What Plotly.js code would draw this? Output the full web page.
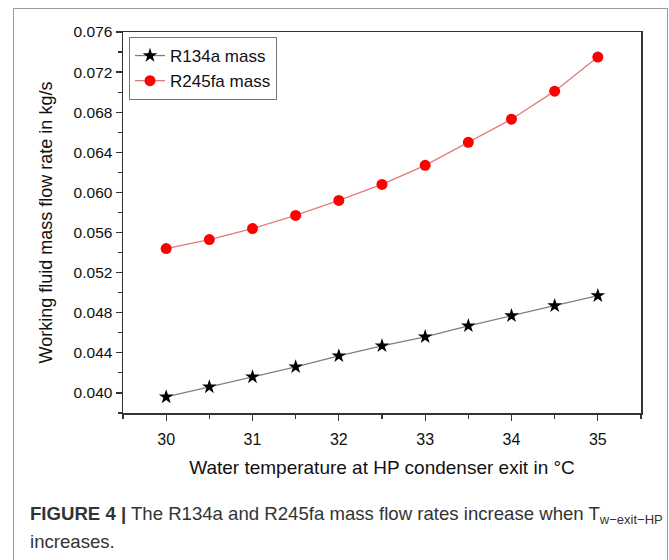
<!DOCTYPE html>
<html>
<head>
<meta charset="utf-8">
<script src="https://cdn.plot.ly/plotly-3.0.1.min.js"></script>
<style>
  html, body { margin: 0; padding: 0; background: #fff; }
  #wrap { position: relative; width: 669px; height: 560px; overflow: hidden; }
  #chart { width: 669px; height: 560px; }
  #frame { position: absolute; left: 13px; top: 8px; width: 653px; height: 600px;
           border: 1.5px solid #9a9a9a; pointer-events: none; }
</style>
</head>
<body>
<div id="wrap">
  <div id="chart"></div>
  <div id="frame"></div>
</div>
<script>
// Water temperature at HP condenser exit (°C)
const temps = [30, 30.5, 31, 31.5, 32, 32.5, 33, 33.5, 34, 34.5, 35];
// Working fluid mass flow rates (kg/s)
const r134aMass  = [0.0396, 0.0406, 0.0416, 0.0426, 0.0437, 0.0447, 0.0456, 0.0467, 0.0477, 0.0487, 0.0497];
const r245faMass = [0.0544, 0.0553, 0.0564, 0.0577, 0.0592, 0.0608, 0.0627, 0.0650, 0.0673, 0.0701, 0.0735];
const yTicks = [0.040, 0.044, 0.048, 0.052, 0.056, 0.060, 0.064, 0.068, 0.072, 0.076];
const xTicks = [30, 31, 32, 33, 34, 35];

const font = 'Liberation Sans, Arial, sans-serif';

const traces = [
  {
    x: temps, y: r134aMass, name: 'R134a mass', type: 'scatter', mode: 'lines+markers',
    line: { color: '#7f7f7f', width: 1.3 },
    marker: { symbol: 'star', size: 11, color: '#000' }
  },
  {
    x: temps, y: r245faMass, name: 'R245fa mass', type: 'scatter', mode: 'lines+markers',
    line: { color: '#e07b7b', width: 1.3 },
    marker: { symbol: 'circle', size: 11, color: '#ff0000' }
  }
];

// plot area geometry in pixels, used to place the caption outside it
const L = 123, R = 28, T = 32, B = 147;
const pw = 669 - L - R, ph = 560 - T - B;
const px = (x) => (x - L) / pw;
const py = (y) => (560 - B - y) / ph;

const layout = {
  width: 669, height: 560,
  margin: { l: L, r: R, t: T, b: B },
  paper_bgcolor: '#fff', plot_bgcolor: '#fff',
  font: { family: font, color: '#222' },
  showlegend: true,
  legend: {
    x: px(129), y: py(37), xanchor: 'left', yanchor: 'top',
    bgcolor: '#fff', bordercolor: '#777', borderwidth: 1,
    font: { size: 17, family: font, color: '#111' },
    tracegroupgap: 0, itemwidth: 30
  },
  xaxis: {
    range: [29.5, 35.5], tickvals: xTicks, ticktext: xTicks.map(String),
    ticks: 'outside', ticklen: 6, tickwidth: 1.3, tickcolor: '#333',
    minor: { dtick: 0.5, ticks: 'outside', ticklen: 4, tickcolor: '#333', tickwidth: 1.2 },
    showline: true, linecolor: '#333', linewidth: 1.5, mirror: true,
    showgrid: false, zeroline: false, ticklabelstandoff: 5,
    tickfont: { size: 16, family: font, color: '#111' },
    title: { text: 'Water temperature at HP condenser exit in °C', font: { size: 19, family: font, color: '#111' }, standoff: 14 }
  },
  yaxis: {
    range: [0.038, 0.076], tickvals: yTicks, ticktext: yTicks.map(v => v.toFixed(3)),
    ticks: 'outside', ticklen: 6, tickwidth: 1.3, tickcolor: '#333',
    minor: { dtick: 0.002, tick0: 0.038, ticks: 'outside', ticklen: 4, tickcolor: '#333', tickwidth: 1.2 },
    showline: true, linecolor: '#333', linewidth: 1.5, mirror: true,
    showgrid: false, zeroline: false,
    tickfont: { size: 15.5, family: font, color: '#111' },
    title: { text: 'Working fluid mass flow rate in kg/s', font: { size: 18, family: font, color: '#111' }, standoff: 16 }
  },
  annotations: [
    {
      xref: 'paper', yref: 'paper', x: px(28), y: py(515), xanchor: 'left', yanchor: 'middle',
      showarrow: false, align: 'left',
      font: { size: 18.6, family: font, color: '#333' },
      text: '<b>FIGURE 4 |</b> The R134a and R245fa mass flow rates increase when T<sub>w−exit−HP</sub>'
    },
    {
      xref: 'paper', yref: 'paper', x: px(28), y: py(541), xanchor: 'left', yanchor: 'middle',
      showarrow: false, align: 'left',
      font: { size: 18.6, family: font, color: '#333' },
      text: 'increases.'
    }
  ]
};

Plotly.newPlot('chart', traces, layout, { displayModeBar: false, staticPlot: true });
</script>
</body>
</html>
